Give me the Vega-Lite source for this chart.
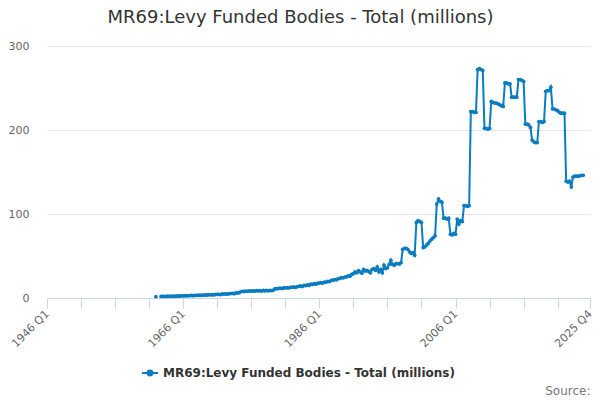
{
  "$schema": "https://vega.github.io/schema/vega-lite/v6.json",
  "width": 543,
  "height": 252,
  "autosize": "none",
  "padding": {"left": 47, "top": 46, "right": 10, "bottom": 102},
  "title": {
    "text": "MR69:Levy Funded Bodies - Total (millions)",
    "fontSize": 18,
    "fontWeight": "normal",
    "color": "#333333",
    "anchor": "middle",
    "dx": -18,
    "offset": 13
  },
  "config": {
    "font": "DejaVu Sans",
    "view": {"stroke": null}
  },
  "data": {
    "values": [
      {"date": "1962-01-01", "value": 1.6},
      {"date": "1962-04-01", "value": null},
      {"date": "1962-07-01", "value": null},
      {"date": "1962-10-01", "value": 1.8},
      {"date": "1963-01-01", "value": 1.9}, {"date": "1963-04-01", "value": 2.0}, {"date": "1963-07-01", "value": 1.8}, {"date": "1963-10-01", "value": 2.1},
      {"date": "1964-01-01", "value": 2.0}, {"date": "1964-04-01", "value": 2.2}, {"date": "1964-07-01", "value": 1.9}, {"date": "1964-10-01", "value": 2.3},
      {"date": "1965-01-01", "value": 2.2}, {"date": "1965-04-01", "value": 2.4}, {"date": "1965-07-01", "value": 2.1}, {"date": "1965-10-01", "value": 2.6},
      {"date": "1966-01-01", "value": 2.5}, {"date": "1966-04-01", "value": 2.7}, {"date": "1966-07-01", "value": 2.4}, {"date": "1966-10-01", "value": 2.9},
      {"date": "1967-01-01", "value": 2.8}, {"date": "1967-04-01", "value": 3.0}, {"date": "1967-07-01", "value": 2.7}, {"date": "1967-10-01", "value": 3.2},
      {"date": "1968-01-01", "value": 3.1}, {"date": "1968-04-01", "value": 3.3}, {"date": "1968-07-01", "value": 3.0}, {"date": "1968-10-01", "value": 3.5},
      {"date": "1969-01-01", "value": 3.4}, {"date": "1969-04-01", "value": 3.6}, {"date": "1969-07-01", "value": 3.3}, {"date": "1969-10-01", "value": 3.9},
      {"date": "1970-01-01", "value": 3.8}, {"date": "1970-04-01", "value": 4.0}, {"date": "1970-07-01", "value": 3.7}, {"date": "1970-10-01", "value": 4.3},
      {"date": "1971-01-01", "value": 4.2}, {"date": "1971-04-01", "value": 4.4}, {"date": "1971-07-01", "value": 4.1}, {"date": "1971-10-01", "value": 4.8},
      {"date": "1972-01-01", "value": 4.7}, {"date": "1972-04-01", "value": 5.0}, {"date": "1972-07-01", "value": 4.6}, {"date": "1972-10-01", "value": 5.3},
      {"date": "1973-01-01", "value": 5.3}, {"date": "1973-04-01", "value": 5.6}, {"date": "1973-07-01", "value": 5.2}, {"date": "1973-10-01", "value": 6.0},
      {"date": "1974-01-01", "value": 6.0}, {"date": "1974-04-01", "value": 6.3}, {"date": "1974-07-01", "value": 7.6}, {"date": "1974-10-01", "value": 8.0},
      {"date": "1975-01-01", "value": 7.8}, {"date": "1975-04-01", "value": 8.2}, {"date": "1975-07-01", "value": 7.9}, {"date": "1975-10-01", "value": 8.5},
      {"date": "1976-01-01", "value": 8.2}, {"date": "1976-04-01", "value": 8.6}, {"date": "1976-07-01", "value": 8.1}, {"date": "1976-10-01", "value": 8.8},
      {"date": "1977-01-01", "value": 8.4}, {"date": "1977-04-01", "value": 8.8}, {"date": "1977-07-01", "value": 8.3}, {"date": "1977-10-01", "value": 9.0},
      {"date": "1978-01-01", "value": 8.6}, {"date": "1978-04-01", "value": 9.0}, {"date": "1978-07-01", "value": 8.5}, {"date": "1978-10-01", "value": 9.2},
      {"date": "1979-01-01", "value": 8.8}, {"date": "1979-04-01", "value": 9.4}, {"date": "1979-07-01", "value": 11.2}, {"date": "1979-10-01", "value": 11.0},
      {"date": "1980-01-01", "value": 11.4}, {"date": "1980-04-01", "value": 11.8}, {"date": "1980-07-01", "value": 11.3}, {"date": "1980-10-01", "value": 12.0},
      {"date": "1981-01-01", "value": 12.0}, {"date": "1981-04-01", "value": 12.4}, {"date": "1981-07-01", "value": 11.9}, {"date": "1981-10-01", "value": 12.8},
      {"date": "1982-01-01", "value": 12.6}, {"date": "1982-04-01", "value": 13.2}, {"date": "1982-07-01", "value": 12.5}, {"date": "1982-10-01", "value": 13.6},
      {"date": "1983-01-01", "value": 13.8}, {"date": "1983-04-01", "value": 14.5}, {"date": "1983-07-01", "value": 13.6}, {"date": "1983-10-01", "value": 15.0},
      {"date": "1984-01-01", "value": 14.8}, {"date": "1984-04-01", "value": 15.6}, {"date": "1984-07-01", "value": 15.0}, {"date": "1984-10-01", "value": 16.4},
      {"date": "1985-01-01", "value": 16.2}, {"date": "1985-04-01", "value": 17.0}, {"date": "1985-07-01", "value": 16.4}, {"date": "1985-10-01", "value": 17.8},
      {"date": "1986-01-01", "value": 17.6}, {"date": "1986-04-01", "value": 18.4}, {"date": "1986-07-01", "value": 17.8}, {"date": "1986-10-01", "value": 19.0},
      {"date": "1987-01-01", "value": 19.0}, {"date": "1987-04-01", "value": 19.8}, {"date": "1987-07-01", "value": 19.6}, {"date": "1987-10-01", "value": 21.0},
      {"date": "1988-01-01", "value": 21.2}, {"date": "1988-04-01", "value": 22.0}, {"date": "1988-07-01", "value": 21.6}, {"date": "1988-10-01", "value": 23.0},
      {"date": "1989-01-01", "value": 23.4}, {"date": "1989-04-01", "value": 24.2}, {"date": "1989-07-01", "value": 24.0}, {"date": "1989-10-01", "value": 25.0},
      {"date": "1990-01-01", "value": 25.4}, {"date": "1990-04-01", "value": 26.2}, {"date": "1990-07-01", "value": 26.0}, {"date": "1990-10-01", "value": 28.0},
      {"date": "1991-01-01", "value": 29.0}, {"date": "1991-04-01", "value": 31.0}, {"date": "1991-07-01", "value": 30.0}, {"date": "1991-10-01", "value": 32.5},
      {"date": "1992-01-01", "value": 31.0}, {"date": "1992-04-01", "value": 29.5}, {"date": "1992-07-01", "value": 34.0}, {"date": "1992-10-01", "value": 32.0},
      {"date": "1993-01-01", "value": 33.0}, {"date": "1993-04-01", "value": 31.5}, {"date": "1993-07-01", "value": 30.0}, {"date": "1993-10-01", "value": 34.0},
      {"date": "1994-01-01", "value": 35.0}, {"date": "1994-04-01", "value": 33.0}, {"date": "1994-07-01", "value": 37.0}, {"date": "1994-10-01", "value": 31.0},
      {"date": "1995-01-01", "value": 34.0}, {"date": "1995-04-01", "value": 30.0}, {"date": "1995-07-01", "value": 39.0}, {"date": "1995-10-01", "value": 35.0},
      {"date": "1996-01-01", "value": 36.0}, {"date": "1996-04-01", "value": 40.0}, {"date": "1996-07-01", "value": 45.0}, {"date": "1996-10-01", "value": 40.0},
      {"date": "1997-01-01", "value": 39.0}, {"date": "1997-04-01", "value": 41.0}, {"date": "1997-07-01", "value": 41.0}, {"date": "1997-10-01", "value": 40.5},
      {"date": "1998-01-01", "value": 42.0}, {"date": "1998-04-01", "value": 58.0}, {"date": "1998-07-01", "value": 59.0}, {"date": "1998-10-01", "value": 59.0},
      {"date": "1999-01-01", "value": 58.0}, {"date": "1999-04-01", "value": 55.0}, {"date": "1999-07-01", "value": 53.0}, {"date": "1999-10-01", "value": 54.0},
      {"date": "2000-01-01", "value": 51.0}, {"date": "2000-04-01", "value": 90.0}, {"date": "2000-07-01", "value": 92.0}, {"date": "2000-10-01", "value": 91.0},
      {"date": "2001-01-01", "value": 90.0}, {"date": "2001-04-01", "value": 60.0}, {"date": "2001-07-01", "value": 61.0}, {"date": "2001-10-01", "value": 63.0},
      {"date": "2002-01-01", "value": 65.0}, {"date": "2002-04-01", "value": 68.0}, {"date": "2002-07-01", "value": 70.0}, {"date": "2002-10-01", "value": 72.0},
      {"date": "2003-01-01", "value": 74.0}, {"date": "2003-04-01", "value": 112.0}, {"date": "2003-07-01", "value": 118.0}, {"date": "2003-10-01", "value": 115.0},
      {"date": "2004-01-01", "value": 114.0}, {"date": "2004-04-01", "value": 95.0}, {"date": "2004-07-01", "value": 95.0}, {"date": "2004-10-01", "value": 94.0},
      {"date": "2005-01-01", "value": 95.0}, {"date": "2005-04-01", "value": 76.0}, {"date": "2005-07-01", "value": 75.0}, {"date": "2005-10-01", "value": 77.0},
      {"date": "2006-01-01", "value": 76.0}, {"date": "2006-04-01", "value": 94.0}, {"date": "2006-07-01", "value": 88.0}, {"date": "2006-10-01", "value": 92.0},
      {"date": "2007-01-01", "value": 91.0}, {"date": "2007-04-01", "value": 110.0}, {"date": "2007-07-01", "value": 110.0}, {"date": "2007-10-01", "value": 109.0},
      {"date": "2008-01-01", "value": 110.0}, {"date": "2008-04-01", "value": 222.0}, {"date": "2008-07-01", "value": 222.0}, {"date": "2008-10-01", "value": 221.0},
      {"date": "2009-01-01", "value": 221.0}, {"date": "2009-04-01", "value": 272.0}, {"date": "2009-07-01", "value": 273.0}, {"date": "2009-10-01", "value": 272.0},
      {"date": "2010-01-01", "value": 271.0}, {"date": "2010-04-01", "value": 202.0}, {"date": "2010-07-01", "value": 202.0}, {"date": "2010-10-01", "value": 201.0},
      {"date": "2011-01-01", "value": 202.0}, {"date": "2011-04-01", "value": 234.0}, {"date": "2011-07-01", "value": 233.0}, {"date": "2011-10-01", "value": 232.0},
      {"date": "2012-01-01", "value": 232.0}, {"date": "2012-04-01", "value": 231.0}, {"date": "2012-07-01", "value": 230.0}, {"date": "2012-10-01", "value": 229.0},
      {"date": "2013-01-01", "value": 228.0}, {"date": "2013-04-01", "value": 256.0}, {"date": "2013-07-01", "value": 256.0}, {"date": "2013-10-01", "value": 255.0},
      {"date": "2014-01-01", "value": 255.0}, {"date": "2014-04-01", "value": 239.0}, {"date": "2014-07-01", "value": 239.0}, {"date": "2014-10-01", "value": 239.0},
      {"date": "2015-01-01", "value": 239.0}, {"date": "2015-04-01", "value": 260.0}, {"date": "2015-07-01", "value": 260.0}, {"date": "2015-10-01", "value": 259.0},
      {"date": "2016-01-01", "value": 258.0}, {"date": "2016-04-01", "value": 207.0}, {"date": "2016-07-01", "value": 207.0}, {"date": "2016-10-01", "value": 206.0},
      {"date": "2017-01-01", "value": 203.0}, {"date": "2017-04-01", "value": 188.0}, {"date": "2017-07-01", "value": 186.0}, {"date": "2017-10-01", "value": 185.0},
      {"date": "2018-01-01", "value": 185.0}, {"date": "2018-04-01", "value": 210.0}, {"date": "2018-07-01", "value": 210.0}, {"date": "2018-10-01", "value": 209.0},
      {"date": "2019-01-01", "value": 210.0}, {"date": "2019-04-01", "value": 246.0}, {"date": "2019-07-01", "value": 247.0}, {"date": "2019-10-01", "value": 247.0},
      {"date": "2020-01-01", "value": 251.0}, {"date": "2020-04-01", "value": 225.0}, {"date": "2020-07-01", "value": 225.0}, {"date": "2020-10-01", "value": 224.0},
      {"date": "2021-01-01", "value": 223.0}, {"date": "2021-04-01", "value": 221.0}, {"date": "2021-07-01", "value": 220.0}, {"date": "2021-10-01", "value": 220.0},
      {"date": "2022-01-01", "value": 220.0}, {"date": "2022-04-01", "value": 139.0}, {"date": "2022-07-01", "value": 138.0}, {"date": "2022-10-01", "value": 139.0},
      {"date": "2023-01-01", "value": 132.0}, {"date": "2023-04-01", "value": 144.0}, {"date": "2023-07-01", "value": 145.0}, {"date": "2023-10-01", "value": 145.0},
      {"date": "2024-01-01", "value": 145.0}, {"date": "2024-04-01", "value": 145.5}, {"date": "2024-07-01", "value": 146.0}, {"date": "2024-10-01", "value": 146.0}
    ]
  },
  "mark": {
    "type": "line",
    "strokeWidth": 2,
    "invalid": "break-paths-show-domains",
    "point": {"filled": true, "size": 14}
  },
  "encoding": {
    "x": {
      "field": "date",
      "type": "temporal",
      "scale": {
        "domain": [
          {"year": 1946, "month": 1, "date": 1, "utc": true},
          {"year": 2025, "month": 10, "date": 1, "utc": true}
        ]
      },
      "axis": {
        "values": [
          {"year": 1946, "month": 1, "date": 1, "utc": true},
          {"year": 1951, "month": 1, "date": 1, "utc": true},
          {"year": 1956, "month": 1, "date": 1, "utc": true},
          {"year": 1961, "month": 1, "date": 1, "utc": true},
          {"year": 1966, "month": 1, "date": 1, "utc": true},
          {"year": 1971, "month": 1, "date": 1, "utc": true},
          {"year": 1976, "month": 1, "date": 1, "utc": true},
          {"year": 1981, "month": 1, "date": 1, "utc": true},
          {"year": 1986, "month": 1, "date": 1, "utc": true},
          {"year": 1991, "month": 1, "date": 1, "utc": true},
          {"year": 1996, "month": 1, "date": 1, "utc": true},
          {"year": 2001, "month": 1, "date": 1, "utc": true},
          {"year": 2006, "month": 1, "date": 1, "utc": true},
          {"year": 2011, "month": 1, "date": 1, "utc": true},
          {"year": 2016, "month": 1, "date": 1, "utc": true},
          {"year": 2021, "month": 1, "date": 1, "utc": true},
          {"year": 2025, "month": 10, "date": 1, "utc": true}
        ],
        "labelExpr": "(utcyear(datum.value) - 1946) % 20 == 0 || utcyear(datum.value) == 2025 ? utcyear(datum.value) + ' Q' + utcquarter(datum.value) : ''",
        "labelAngle": -45,
        "labelAlign": "right",
        "labelBaseline": "middle",
        "labelPadding": 4,
        "labelOverlap": false,
        "labelFontSize": 11,
        "labelColor": "#666666",
        "labelFlush": false,
        "grid": false,
        "domainColor": "#ccd6eb",
        "tickColor": "#ccd6eb",
        "tickSize": 10,
        "title": "Source:",
        "titleFontSize": 12,
        "titleFontWeight": "normal",
        "titleColor": "#777777",
        "titleAlign": "right",
        "titleAnchor": "end",
        "titleBaseline": "alphabetic",
        "titleX": 543,
        "titleY": 96
      }
    },
    "y": {
      "field": "value",
      "type": "quantitative",
      "scale": {"domain": [0, 300], "nice": false},
      "axis": {
        "values": [0, 100, 200, 300],
        "title": null,
        "domain": false,
        "ticks": false,
        "gridColor": "#e6e6e6",
        "labelFontSize": 11,
        "labelColor": "#666666",
        "labelPadding": 18
      }
    },
    "color": {
      "datum": "MR69:Levy Funded Bodies - Total (millions)",
      "scale": {"range": ["#0a7cc1"]},
      "legend": {
        "title": null,
        "orient": "none",
        "legendX": 94,
        "legendY": 318,
        "symbolType": "M-1,0L1,0M-0.3,0A0.3,0.3,0,1,0,0.3,0A0.3,0.3,0,1,0,-0.3,0Z",
        "symbolSize": 256,
        "symbolStrokeWidth": 2,
        "symbolFillColor": "#0a7cc1",
        "labelLimit": 0,
        "labelFontSize": 12,
        "labelFontWeight": "bold",
        "labelColor": "#333333",
        "labelFont": "DejaVu Sans"
      }
    }
  }
}
